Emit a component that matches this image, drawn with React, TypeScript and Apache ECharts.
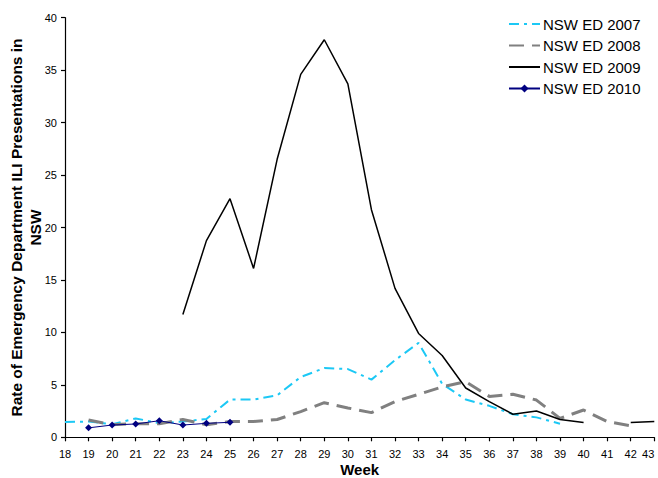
import React, { useEffect, useRef } from "react";
import * as echarts from "echarts";

const weeks = [18, 19, 20, 21, 22, 23, 24, 25, 26, 27, 28, 29, 30, 31, 32, 33, 34, 35, 36, 37, 38, 39, 40, 41, 42, 43];
const ed2007 = [1.45, 1.5, 1.25, 1.8, 1.35, 1.5, 1.75, 3.6, 3.6, 4.0, 5.75, 6.6, 6.5, 5.5, 7.35, 9.0, 5.1, 3.6, 3.0, 2.2, 1.9, 1.3, null, null, null, null];
const ed2008 = [null, 1.65, 1.2, 1.3, 1.3, 1.7, 1.2, 1.5, 1.5, 1.7, 2.45, 3.3, 2.8, 2.35, 3.4, 4.1, 4.8, 5.3, 3.9, 4.1, 3.55, 1.8, 2.6, 1.5, 1.1, null];
const ed2009 = [null, null, null, null, null, 11.7, 18.75, 22.75, 16.1, 26.5, 34.6, 37.9, 33.7, 21.7, 14.2, 9.9, 7.8, 4.7, 3.4, 2.2, 2.5, 1.7, 1.4, null, 1.4, 1.5];
const ed2010 = [null, 0.9, 1.17, 1.27, 1.58, 1.17, 1.33, 1.43, null, null, null, null, null, null, null, null, null, null, null, null, null, null, null, null, null, null];
const seriesNames = ["NSW ED 2007", "NSW ED 2008", "NSW ED 2009", "NSW ED 2010"];
const yTitle = "Rate of Emergency Department ILI Presentations in\nNSW";
const xTitle = "Week";

const FONT = "'Liberation Sans', Arial, sans-serif";

function toPairs(vals: (number | null)[]) {
  return weeks.map((w, i) => [w, vals[i] === null ? "-" : vals[i]]);
}

export default function App() {
  const ref = useRef<HTMLDivElement>(null);
  useEffect(() => {
    document.body.style.margin = "0";
    if (!ref.current) return;
    const chart = echarts.init(ref.current, null, { renderer: "svg" });
    const axisCommon = {
      axisLine: { show: true, lineStyle: { color: "#000", width: 1.2 } },
      axisTick: { show: true, inside: false, length: 4, lineStyle: { color: "#000", width: 1.2 } },
      splitLine: { show: false },
    };
    chart.setOption({
      animation: false,
      backgroundColor: "#fff",
      textStyle: { fontFamily: FONT },
      grid: { left: 65, right: 3.7, top: 17.7, bottom: 40.7, containLabel: false, outerBoundsMode: "none" },
      legend: {
        orient: "vertical",
        left: 508,
        top: 16.5,
        padding: 0,
        itemWidth: 31,
        itemHeight: 10,
        itemGap: 6.5,
        textStyle: { fontSize: 15, color: "#000", fontFamily: FONT, padding: [0, 0, 0, -2] },
        data: [
          { name: seriesNames[0], itemStyle: { opacity: 0 } },
          { name: seriesNames[1], itemStyle: { opacity: 0 } },
          { name: seriesNames[2], itemStyle: { opacity: 0 } },
          { name: seriesNames[3] },
        ],
      },
      xAxis: {
        type: "value",
        min: 18,
        max: 43,
        interval: 1,
        ...axisCommon,
        axisLabel: { fontSize: 11, color: "#000", margin: 11, fontFamily: FONT, alignMaxLabel: "right" },
        name: xTitle,
        nameLocation: "middle",
        nameGap: 25,
        nameMoveOverlap: false,
        nameTextStyle: { fontSize: 15, fontWeight: "bold", color: "#000", fontFamily: FONT },
      },
      yAxis: {
        type: "value",
        min: 0,
        max: 40,
        interval: 5,
        ...axisCommon,
        axisLabel: { fontSize: 11, color: "#000", margin: 8, fontFamily: FONT },
        name: yTitle,
        nameLocation: "middle",
        nameGap: 20,
        nameMoveOverlap: false,
        nameTextStyle: { fontSize: 15.5, fontWeight: "bold", color: "#000", lineHeight: 19, fontFamily: FONT },
      },
      series: [
        {
          name: seriesNames[0],
          type: "line",
          data: toPairs(ed2007),
          symbol: "none",
          connectNulls: false,
          itemStyle: { color: "#1CC8F5" },
          lineStyle: { color: "#1CC8F5", width: 2, type: [10, 5, 3, 5] },
        },
        {
          name: seriesNames[1],
          type: "line",
          data: toPairs(ed2008),
          symbol: "none",
          connectNulls: false,
          itemStyle: { color: "#808080" },
          lineStyle: { color: "#808080", width: 3, type: [15, 8] },
        },
        {
          name: seriesNames[2],
          type: "line",
          data: toPairs(ed2009),
          symbol: "none",
          connectNulls: false,
          itemStyle: { color: "#000" },
          lineStyle: { color: "#000", width: 1.5 },
        },
        {
          name: seriesNames[3],
          type: "line",
          data: toPairs(ed2010),
          symbol: "diamond",
          symbolSize: 7,
          showSymbol: true,
          connectNulls: false,
          itemStyle: { color: "#000080" },
          lineStyle: { color: "#000080", width: 1 },
        },
      ],
    });
    return () => chart.dispose();
  }, []);
  return <div ref={ref} style={{ width: 658, height: 478 }} />;
}
